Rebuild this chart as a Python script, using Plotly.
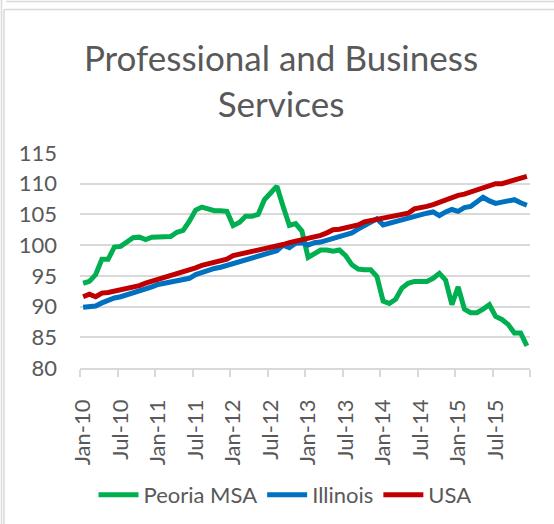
import plotly.graph_objects as go

# ---- data ----
years = ["10", "11", "12", "13", "14", "15"]
month_names = ["Jan", "Feb", "Mar", "Apr", "May", "Jun",
               "Jul", "Aug", "Sep", "Oct", "Nov", "Dec"]
months = [f"{m}-{y}" for y in years for m in month_names]

peoria = [93.8, 94.1, 95.2, 97.7, 97.7, 99.7, 99.8, 100.5, 101.2, 101.3, 100.9, 101.3,
          101.3, 101.3, 101.4, 102.1, 102.4, 103.9, 105.7, 106.2, 105.9, 105.6, 105.6, 105.5,
          103.2, 103.7, 104.7, 104.7, 105.0, 107.4, 108.5, 109.6, 106.3, 103.2, 103.5, 102.3,
          98.0, 98.5, 99.2, 99.2, 99.0, 99.2, 98.3, 96.8, 96.1, 96.0, 96.0, 94.9,
          90.9, 90.5, 91.2, 93.0, 93.8, 94.1, 94.1, 94.1, 94.6, 95.4, 94.3, 90.3,
          93.2, 89.6, 89.0, 89.0, 89.6, 90.3, 88.4, 87.9, 87.1, 85.7, 85.7, 83.6]

illinois = [89.9, 90.0, 90.1, 90.6, 91.1, 91.4, 91.6, 91.9, 92.1, 92.4, 92.8, 93.2,
            93.6, 93.8, 93.9, 94.2, 94.4, 94.6, 95.2, 95.6, 96.0, 96.2, 96.4, 96.7,
            97.1, 97.3, 97.6, 97.9, 98.3, 98.6, 98.9, 99.1, 100.0, 99.6, 100.3, 100.4,
            100.0, 100.4, 100.5, 100.8, 101.1, 101.4, 101.6, 102.0, 102.6, 103.2, 103.9, 104.3,
            103.3, 103.6, 103.9, 104.1, 104.4, 104.7, 105.0, 105.2, 105.4, 104.8, 105.4, 105.8,
            105.5, 106.1, 106.3, 107.1, 107.8, 107.2, 106.8, 107.0, 107.3, 107.4, 106.9, 106.5]

usa = [91.6, 92.0, 91.6, 92.2, 92.3, 92.5, 92.6, 92.8, 93.1, 93.4, 93.8, 94.1,
       94.5, 94.7, 94.9, 95.3, 95.6, 95.8, 96.3, 96.7, 97.0, 97.3, 97.5, 97.7,
       98.3, 98.5, 98.7, 98.9, 99.3, 99.5, 99.7, 99.8, 100.1, 100.4, 100.6, 100.8,
       101.0, 101.3, 101.6, 102.0, 102.5, 102.6, 102.8, 103.0, 103.3, 103.8, 104.0, 104.0,
       104.3, 104.5, 104.7, 105.0, 105.2, 105.9, 106.0, 106.3, 106.6, 107.0, 107.4, 107.9,
       108.1, 108.3, 108.6, 109.0, 109.4, 109.7, 110.0, 110.0, 110.3, 110.6, 110.9, 111.2]

series = [("Peoria MSA", peoria, "#00B050"),
          ("Illinois", illinois, "#0070C0"),
          ("USA", usa, "#C00000")]

y_ticks = [80, 85, 90, 95, 100, 105, 110, 115]
title_text = "Professional and Business<br>Services"

# ---- layout constants (pixels) ----
W, H = 554, 524
ML, MR, MT, MB = 80, 24, 153, 156
PW, PH = W - ML - MR, H - MT - MB
FONT = "Lato, 'Liberation Sans', sans-serif"
TXT = "#595959"
GRID = "#D9D9D9"


def px_x(p):
    return (p - ML) / PW


def px_y(p):
    return (H - MB - p) / PH


xi = list(range(len(months)))
label_idx = list(range(0, len(months), 6))

fig = go.Figure()
for name, vals, color in series:
    fig.add_trace(go.Scatter(x=xi, y=vals, name=name, mode="lines",
                             line=dict(color=color, width=5)))

border = dict(color=GRID, width=1.5)
shapes = [
    dict(type="line", xref="paper", yref="paper", x0=px_x(1.5), x1=px_x(1.5),
         y0=px_y(0), y1=px_y(H), line=border),
    dict(type="line", xref="paper", yref="paper", x0=px_x(4), x1=px_x(4),
         y0=px_y(9.5), y1=px_y(H), line=border),
    dict(type="line", xref="paper", yref="paper", x0=px_x(6), x1=px_x(W),
         y0=px_y(1.5), y1=px_y(1.5), line=border),
    dict(type="line", xref="paper", yref="paper", x0=px_x(4), x1=px_x(W),
         y0=px_y(9.5), y1=px_y(9.5), line=border),
]

fig.update_layout(
    width=W, height=H,
    margin=dict(l=ML, r=MR, t=MT, b=MB, pad=0, autoexpand=False),
    paper_bgcolor="white", plot_bgcolor="white",
    font=dict(family=FONT, color=TXT, size=22),
    title=dict(text=title_text, x=281 / W, xref="container", xanchor="center",
               y=1 - 71 / H, yref="container", yanchor="top",
               font=dict(family=FONT, size=35, color=TXT)),
    showlegend=True,
    legend=dict(orientation="h", x=px_x(285), xanchor="center",
                y=px_y(495), yanchor="middle",
                font=dict(family=FONT, size=22, color=TXT),
                bgcolor="rgba(0,0,0,0)", itemwidth=40, tracegroupgap=0),
    shapes=shapes,
    xaxis=dict(range=[-0.5, len(months) - 0.5], tickmode="array",
               tickvals=label_idx, ticktext=[months[i] for i in label_idx],
               tickangle=-90, ticks="", showgrid=False, zeroline=False,
               showline=True, linecolor=GRID, linewidth=1.5, automargin=False,
               tickfont=dict(family=FONT, size=22, color=TXT),
               ticklabelstandoff=21,
               minor=dict(tickmode="array",
                          tickvals=[i - 0.5 for i in range(0, len(months) + 1, 6)],
                          ticks="outside", ticklen=7, tickcolor=GRID, tickwidth=1.5,
                          showgrid=False)),
    yaxis=dict(range=[80, 115], tickmode="array", tickvals=y_ticks,
               showgrid=True, gridcolor=GRID, gridwidth=1.5, zeroline=False,
               showline=False, ticks="", automargin=False,
               tickfont=dict(family=FONT, size=22, color=TXT),
               ticklabelstandoff=22),
)

fig.write_html("out.html",
               config={"displayModeBar": False},
               post_script="document.body.style.margin='0';"
                           "document.documentElement.style.overflow='hidden';")
